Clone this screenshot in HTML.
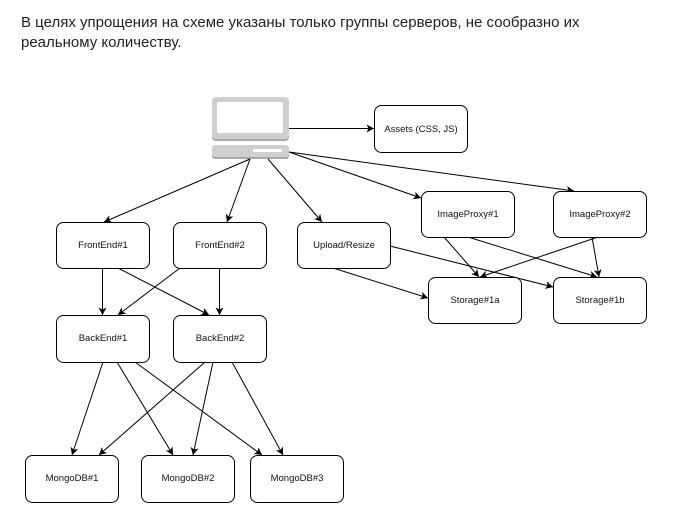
<!DOCTYPE html>
<html><head><meta charset="utf-8"><style>
html,body{margin:0;padding:0;background:#fff;}
body{width:692px;height:526px;position:relative;overflow:hidden;}
.t{position:absolute;left:21px;top:13px;font-family:"Liberation Sans",Arial,sans-serif;font-size:15px;line-height:20px;color:#222;white-space:nowrap;}
svg{position:absolute;left:0;top:0;}
svg text{font-family:"Liberation Sans",Arial,sans-serif;font-size:9.5px;fill:#111;}
</style></head><body>
<div class="t">В целях упрощения на схеме указаны только группы серверов, не сообразно их<br>реальному количеству.</div>
<svg width="692" height="526" viewBox="0 0 692 526">
<defs>
<marker id="a" markerUnits="userSpaceOnUse" markerWidth="9" markerHeight="9" refX="7.5" refY="4" orient="auto">
<path d="M0,0 L7.5,4 L0,8 L2,4 z" fill="#000"/>
</marker>
</defs>
<!-- computer -->
<rect x="212" y="98" width="77" height="43" rx="4" fill="#a8a8a8"/>
<rect x="212" y="97" width="77" height="42" rx="4" fill="#cfcfcf"/>
<rect x="217" y="102" width="66" height="31" rx="2" fill="#fff"/>
<rect x="212" y="146" width="77" height="13" rx="3" fill="#a8a8a8"/>
<rect x="212" y="145" width="77" height="12" rx="3" fill="#cfcfcf"/>
<rect x="253" y="149" width="29" height="3" fill="#fff"/>
<g stroke="#000" stroke-width="1" fill="none" marker-end="url(#a)">
<line x1="289" y1="128.5" x2="374" y2="128.5"/>
<line x1="250" y1="159" x2="104" y2="222"/>
<line x1="250" y1="159" x2="227" y2="222"/>
<line x1="268" y1="159" x2="322" y2="222"/>
<line x1="289" y1="152" x2="421" y2="198"/>
<line x1="289" y1="152" x2="574" y2="191"/>
<line x1="102.5" y1="268" x2="102.5" y2="315"/>
<line x1="118" y1="268" x2="209" y2="315"/>
<line x1="180" y1="268" x2="118" y2="315"/>
<line x1="219.5" y1="268" x2="219.5" y2="315"/>
<line x1="103" y1="362" x2="72" y2="455"/>
<line x1="117" y1="362" x2="173" y2="455"/>
<line x1="135" y1="362" x2="262" y2="455"/>
<line x1="205" y1="362" x2="99" y2="455"/>
<line x1="213" y1="362" x2="193" y2="455"/>
<line x1="232" y1="362" x2="283" y2="455"/>
<line x1="444" y1="237" x2="479" y2="277"/>
<line x1="468" y1="237" x2="597" y2="277"/>
<line x1="598" y1="237" x2="480" y2="277"/>
<line x1="592" y1="237" x2="599" y2="277"/>
<line x1="333" y1="268" x2="428" y2="298"/>
<line x1="390" y1="246" x2="553" y2="287"/>
</g>
<g stroke="#000" stroke-width="1" fill="#fff">
<rect x="374.5" y="105.5" width="93" height="47" rx="7"/>
<rect x="56.5" y="222.5" width="93" height="46" rx="7"/>
<rect x="173.5" y="222.5" width="93" height="46" rx="7"/>
<rect x="297.5" y="222.5" width="93" height="46" rx="7"/>
<rect x="421.5" y="191.5" width="93" height="46" rx="7"/>
<rect x="553.5" y="191.5" width="93" height="46" rx="7"/>
<rect x="428.5" y="277.5" width="93" height="46" rx="7"/>
<rect x="553.5" y="277.5" width="93" height="46" rx="7"/>
<rect x="56.5" y="315.5" width="93" height="47" rx="7"/>
<rect x="173.5" y="315.5" width="93" height="47" rx="7"/>
<rect x="25.5" y="455.5" width="93" height="47" rx="7"/>
<rect x="141.5" y="455.5" width="93" height="47" rx="7"/>
<rect x="250.5" y="455.5" width="93" height="47" rx="7"/>
</g>
<g text-anchor="middle">
<text x="421" y="132">Assets (CSS, JS)</text>
<text x="103" y="248">FrontEnd#1</text>
<text x="220" y="248">FrontEnd#2</text>
<text x="344" y="248">Upload/Resize</text>
<text x="468" y="217">ImageProxy#1</text>
<text x="600" y="217">ImageProxy#2</text>
<text x="475" y="303">Storage#1a</text>
<text x="600" y="303">Storage#1b</text>
<text x="103" y="341">BackEnd#1</text>
<text x="220" y="341">BackEnd#2</text>
<text x="72" y="481">MongoDB#1</text>
<text x="188" y="481">MongoDB#2</text>
<text x="297" y="481">MongoDB#3</text>
</g>
</svg>
</body></html>
